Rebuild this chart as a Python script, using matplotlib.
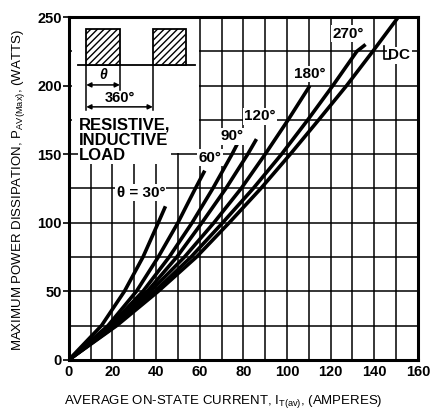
import matplotlib
matplotlib.use("Agg")
import matplotlib.pyplot as plt
from matplotlib.patches import Rectangle

# curves: average on-state current (A) vs power (W)
dc_x = [0, 22, 41, 58.5, 73.5, 88, 101.5, 114.5, 127.3, 139.3, 151]
dc_y = [0, 25, 50, 75, 100, 125, 150, 175, 200, 225, 250]
c270_x = [0, 21.5, 39.5, 56, 70.5, 84.5, 97.5, 109.5, 121, 132, 136]
c270_y = [0, 25, 50, 75, 100, 125, 150, 175, 200, 225, 230]
c180_x = [0, 21, 37.5, 53, 66.5, 79, 90, 100.5, 110.5]
c180_y = [0, 25, 50, 75, 100, 125, 150, 175, 200]
c120_x = [0, 20, 36, 49.5, 61, 72, 82, 86]
c120_y = [0, 25, 50, 75, 100, 125, 150, 161]
c90_x = [0, 19, 34, 46, 56.5, 66, 74.8, 80]
c90_y = [0, 25, 50, 75, 100, 125, 150, 166]
c60_x = [0, 18, 31, 41, 50, 58, 62.3]
c60_y = [0, 25, 50, 75, 100, 125, 138]
c30_x = [0, 15, 25.5, 34, 41, 44.3]
c30_y = [0, 25, 50, 75, 100, 112]

x_ticks = [0, 20, 40, 60, 80, 100, 120, 140, 160]
y_ticks = [0, 50, 100, 150, 200, 250]

plt.rcParams['font.family'] = ['Liberation Sans', 'DejaVu Sans']
plt.rcParams['hatch.linewidth'] = 1.0

fig = plt.figure(figsize=(4.3, 4.16), dpi=100)
ax = fig.add_axes([0.160, 0.135, 0.812, 0.824])
ax.set_xlim(0, 160)
ax.set_ylim(0, 250)
ax.set_axisbelow(True)

ax.set_xticks(x_ticks)
ax.set_yticks(y_ticks)
ax.set_xticks(range(0, 161, 10), minor=True)
ax.set_yticks(range(0, 251, 25), minor=True)
ax.grid(True, which="both", color="black", linewidth=1.1)
ax.tick_params(axis="x", which="both", length=0, pad=4, labelsize=10.5)
ax.tick_params(axis="y", which="major", length=4, width=1.2, pad=1, labelsize=10.5)
ax.tick_params(axis="y", which="minor", length=0)
for lbl in ax.get_xticklabels() + ax.get_yticklabels():
    lbl.set_fontweight("bold")
for sp in ax.spines.values():
    sp.set_linewidth(2.2)

# blank area for the waveform sketch
ax.add_patch(Rectangle((1.3, 150.6), 58.2, 100, facecolor="white", edgecolor="none", zorder=1))

curves = [(c30_x, c30_y), (c60_x, c60_y), (c90_x, c90_y), (c120_x, c120_y),
          (c180_x, c180_y), (c270_x, c270_y), (dc_x, dc_y)]
for cx, cy in curves:
    ax.plot(cx, cy, color="black", linewidth=2.6, solid_capstyle="butt", zorder=3)

bold = dict(fontweight="bold", fontsize=11, color="black", zorder=5)
box = dict(facecolor="white", edgecolor="none", pad=1)
ax.text(33, 122, "θ = 30°", ha="center", va="center", bbox=box, **bold)
ax.text(64.6, 147.5, "60°", ha="center", va="center", bbox=box, **bold)
ax.text(75, 163, "90°", ha="center", va="center", bbox=box, **bold)
ax.text(87.5, 177.5, "120°", ha="center", va="center", bbox=box, **bold)
ax.text(110.5, 208.5, "180°", ha="center", va="center", bbox=box, **bold)
ax.text(128, 238, "270°", ha="center", va="center", bbox=box, **bold)
ax.text(151.5, 222, "DC", ha="center", va="center", bbox=box, **bold)
ax.plot([144.5, 144.5, 147], [229, 219.5, 219.5], color="black", linewidth=1.2, zorder=6)

# waveform sketch
ax.plot([4, 57.7], [215, 215], color="black", linewidth=1.3, zorder=4)
for x0 in (8, 38.5):
    ax.add_patch(Rectangle((x0, 215), 15.4, 26, facecolor="white", edgecolor="black",
                           hatch="/////", linewidth=1.3, zorder=4))
ax.plot([8, 8], [215, 182], color="black", linewidth=1.1, zorder=4)
ax.plot([23.4, 23.4], [215, 197], color="black", linewidth=1.1, zorder=4)
ax.plot([38.5, 38.5], [215, 182], color="black", linewidth=1.1, zorder=4)
arrow = dict(arrowstyle="<|-|>", color="black", linewidth=1.1, mutation_scale=7,
             shrinkA=0, shrinkB=0)
ax.annotate("", xy=(8, 200.5), xytext=(23.4, 200.5), arrowprops=arrow, zorder=4)
ax.annotate("", xy=(8, 184.5), xytext=(38.5, 184.5), arrowprops=arrow, zorder=4)
ax.text(15.7, 207.5, "θ", ha="center", va="center", fontsize=10, fontweight="bold",
        style="italic", zorder=5)
ax.text(23.4, 191, "360°", ha="center", va="center", fontsize=10.5, fontweight="bold", zorder=5)
ax.text(4.5, 160, "RESISTIVE,\nINDUCTIVE\nLOAD", ha="left", va="center", fontsize=12,
        fontweight="bold", family=["Liberation Sans Narrow", "Liberation Sans"],
        linespacing=1.0, bbox=dict(facecolor="white", edgecolor="none", pad=0.5), zorder=5)

fig.text(0.044, 0.543, r"MAXIMUM POWER DISSIPATION, P$_{\mathregular{AV(Max)}}$, (WATTS)",
         rotation=90, ha="center", va="center", fontsize=9.5)
fig.text(0.519, 0.036, r"AVERAGE ON-STATE CURRENT, I$_{\mathregular{T(av)}}$, (AMPERES)",
         ha="center", va="center", fontsize=9.5)

fig.savefig("out.png", dpi=100)
